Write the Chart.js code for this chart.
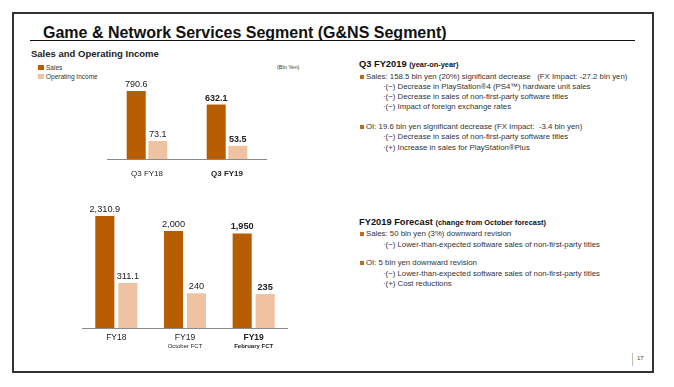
<!DOCTYPE html>
<html>
<head>
<meta charset="utf-8">
<script src="https://cdn.jsdelivr.net/npm/chart.js@4/dist/chart.umd.min.js"></script>
<style>
  body { margin: 0; background: #fff; font-family: "Liberation Sans", Arial, sans-serif; color: #222; }
  #page { position: relative; width: 674px; height: 387px; overflow: hidden; }
  .abs { position: absolute; white-space: nowrap; }
  #frame { left: 12px; top: 12px; width: 638px; height: 357px; border: 2px solid #333; }
  #title { left: 43px; top: 24px; font-family: "Liberation Sans Narrow", "Liberation Sans", Arial, sans-serif; font-weight: bold; font-size: 16px; color: #111; }
  #rule { left: 30px; top: 40px; width: 605px; height: 0; border-top: 1.3px solid #111; }
  #sub { left: 31px; top: 48px; font-weight: bold; font-size: 9.5px; }
  .leg { font-size: 6.5px; color: #333; }
  .sw { position: absolute; width: 6px; height: 5px; }
  #unit { left: 277px; top: 64px; font-size: 5.5px; color: #333; }
  .head { font-weight: bold; font-size: 9.3px; color: #111; }
  .head small { font-size: 7.4px; }
  .txt { font-size: 7.8px; color: #333; }
  .bul { position: absolute; width: 4px; height: 4px; background: #C06A1E; }
  canvas { position: absolute; }
</style>
</head>
<body>
<div id="page">
  <div id="frame" class="abs"></div>
  <div id="title" class="abs">Game &amp; Network Services Segment (G&amp;NS Segment)</div>
  <div id="rule" class="abs"></div>
  <div id="sub" class="abs">Sales and Operating Income</div>

  <div class="sw" style="left:38px;top:65px;background:#B85C00"></div>
  <div class="abs leg" style="left:46px;top:64px">Sales</div>
  <div class="sw" style="left:38px;top:74px;background:#EFC3A1"></div>
  <div class="abs leg" style="left:46px;top:73px">Operating Income</div>
  <div id="unit" class="abs">(Bln Yen)</div>

  <canvas id="topChart" width="160" height="130" style="left:107px;top:60px"></canvas>
  <canvas id="fcChart" width="206" height="170" style="left:82px;top:190px"></canvas>

  <!-- right side text -->
  <div class="abs head" style="left:359px;top:59px">Q3 FY2019 <small>(year-on-year)</small></div>
  <div class="bul" style="left:360px;top:75px"></div>
  <div class="abs txt" style="left:366px;top:72px">Sales: 158.5 bln yen (20%) significant decrease &nbsp;&nbsp;(FX Impact: -27.2 bln yen)</div>
  <div class="abs txt" style="left:383px;top:82px">·(−) Decrease in PlayStation®4 (PS4™) hardware unit sales</div>
  <div class="abs txt" style="left:383px;top:92px">·(−) Decrease in sales of non-first-party software titles</div>
  <div class="abs txt" style="left:383px;top:102px">·(−) Impact of foreign exchange rates</div>
  <div class="bul" style="left:360px;top:125px"></div>
  <div class="abs txt" style="left:366px;top:122px">OI: 19.6 bln yen significant decrease (FX Impact: &nbsp;-3.4 bln yen)</div>
  <div class="abs txt" style="left:383px;top:132px">·(−) Decrease in sales of non-first-party software titles</div>
  <div class="abs txt" style="left:383px;top:143px">·(+) Increase in sales for PlayStation®Plus</div>

  <div class="abs head" style="left:359px;top:217px">FY2019 Forecast <small>(change from October forecast)</small></div>
  <div class="bul" style="left:360px;top:232px"></div>
  <div class="abs txt" style="left:366px;top:229px">Sales: 50 bln yen (3%) downward revision</div>
  <div class="abs txt" style="left:383px;top:240px">·(−) Lower-than-expected software sales of non-first-party titles</div>
  <div class="bul" style="left:360px;top:261px"></div>
  <div class="abs txt" style="left:366px;top:258px">OI: 5 bln yen downward revision</div>
  <div class="abs txt" style="left:383px;top:269px">·(−) Lower-than-expected software sales of non-first-party titles</div>
  <div class="abs txt" style="left:383px;top:279px">·(+) Cost reductions</div>

  <div class="abs" style="left:632px;top:353px;width:0;height:13px;border-left:1px solid #bbb"></div>
  <div class="abs" style="left:637px;top:355px;font-size:6px;color:#444">17</div>
</div>

<script>
// quarter chart
const quarterLabels = ["Q3 FY18", "Q3 FY19"];
const quarterSales = [790.6, 632.1];
const quarterOI = [73.1, 53.5];

// full year / forecast chart
const yearLabels = ["FY18", "FY19", "FY19"];
const yearSubLabels = ["", "October FCT", "February FCT"];
const yearSales = [2310.9, 2000, 1950];
const yearOI = [311.1, 240, 235];

const SALES_COLOR = "#B85C00";
const OI_COLOR = "#EFC3A1";
const FONT = "'Liberation Sans', Arial, sans-serif";

function fmt(v) {
    return v.toLocaleString("en-US", { maximumFractionDigits: 1 });
}

// draws values on bars, the base line and the category labels
const barText = {
    id: "barText",
    afterDatasetsDraw(chart, args, opts) {
        const ctx = chart.ctx;
        const area = chart.chartArea;
        const last = chart.data.labels.length - 1;
        ctx.save();
        ctx.textAlign = "center";
        ctx.fillStyle = "#222";
        ctx.textBaseline = "bottom";
        chart.data.datasets.forEach((ds, i) => {
            chart.getDatasetMeta(i).data.forEach((bar, j) => {
                ctx.font = (j === last ? "bold " : "") + opts.valueSize + "px " + FONT;
                ctx.fillText(fmt(ds.data[j]), bar.x, bar.y - 2);
            });
        });
        // base line
        ctx.strokeStyle = "#8a8a8a";
        ctx.lineWidth = 1;
        ctx.beginPath();
        ctx.moveTo(area.left, area.bottom + 0.5);
        ctx.lineTo(area.right, area.bottom + 0.5);
        ctx.stroke();
        // categories
        const x = chart.scales.x;
        ctx.textBaseline = "middle";
        chart.data.labels.forEach((lab, j) => {
            const px = x.getPixelForValue(j);
            ctx.font = (j === last ? "bold " : "") + opts.catSize + "px " + FONT;
            ctx.fillText(lab, px, area.bottom + opts.catOffset);
            if (opts.subs && opts.subs[j]) {
                ctx.font = (j === last ? "bold " : "") + "6px " + FONT;
                ctx.fillText(opts.subs[j], px, area.bottom + opts.catOffset + 8);
            }
        });
        ctx.restore();
    }
};

function makeChart(id, labels, sales, oi, salesMax, oiMax, pad, catPct, barPct, textOpts) {
    return new Chart(document.getElementById(id), {
        type: "bar",
        data: {
            labels: labels,
            datasets: [
                { label: "Sales", data: sales, backgroundColor: SALES_COLOR, yAxisID: "ySales" },
                { label: "Operating Income", data: oi, backgroundColor: OI_COLOR, yAxisID: "yOI" }
            ]
        },
        options: {
            responsive: false,
            animation: false,
            devicePixelRatio: 1,
            layout: { padding: pad },
            categoryPercentage: catPct,
            barPercentage: barPct,
            scales: {
                x: { display: false },
                ySales: { display: false, min: 0, max: salesMax },
                yOI: { display: false, min: 0, max: oiMax }
            },
            plugins: {
                legend: { display: false },
                tooltip: { enabled: false },
                barText: textOpts
            }
        },
        plugins: [barText]
    });
}

makeChart("topChart", quarterLabels, quarterSales, quarterOI, 918, 321,
    { top: 20, bottom: 31, left: 0, right: 0 }, 0.54, 0.88,
    { valueSize: 9, catSize: 8, catOffset: 15 });

makeChart("fcChart", yearLabels, yearSales, yearOI, 2435, 816,
    { top: 20, bottom: 32, left: 0, right: 0 }, 0.67, 0.83,
    { valueSize: 9.2, catSize: 8.5, catOffset: 10, subs: yearSubLabels });
</script>
</body>
</html>
